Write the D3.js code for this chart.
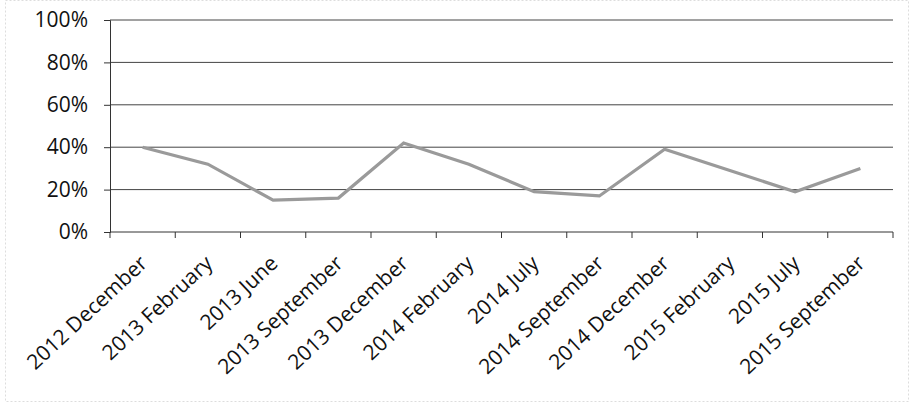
<!DOCTYPE html>
<html><head><meta charset="utf-8">
<script src="https://cdn.jsdelivr.net/npm/d3@7"></script>
<style>body{margin:0;background:#fff}svg{display:block}</style>
</head><body>
<svg id="c" width="910" height="406"></svg>
<script>
const categories = ["2012 December","2013 February","2013 June","2013 September","2013 December","2014 February","2014 July","2014 September","2014 December","2015 February","2015 July","2015 September"];
const values = [0.40,0.32,0.15,0.16,0.42,0.32,0.19,0.17,0.39,0.29,0.19,0.30];
const yTicks = [0,0.2,0.4,0.6,0.8,1.0];

const svg = d3.select("#c");
const font = "'Open Sans', sans-serif";
svg.append("rect").attr("x",5.5).attr("y",0.5).attr("width",903).attr("height",401)
  .attr("fill","#fff").attr("stroke","#ddd").attr("stroke-dasharray","2,2");

const L=110, R=893, T=20, B=232;
const x = d3.scaleBand().domain(categories).range([L,R]);
const y = d3.scaleLinear().domain([0,1]).range([B,T]);

// gridlines
svg.append("g").selectAll("line").data(yTicks.filter(d=>d>0)).join("line")
  .attr("x1",L).attr("x2",R).attr("y1",d=>y(d)).attr("y2",d=>y(d))
  .attr("stroke","#444").attr("stroke-width",1);

// y axis
const ya = svg.append("g").attr("transform",`translate(${L},0)`)
  .call(d3.axisLeft(y).tickValues(yTicks).tickFormat(d3.format(".0%")).tickSize(6).tickPadding(16));
ya.select(".domain").attr("stroke","#333");
ya.selectAll(".tick line").attr("stroke","#333");
ya.selectAll("text").attr("font-family",font).attr("font-size",21).attr("fill","#111");

// x axis
const xa = svg.append("g").attr("transform",`translate(0,${B})`)
  .call(d3.axisBottom(x).tickSize(0).tickFormat(""));
xa.select(".domain").attr("stroke","#333").attr("d",`M${L},0H${R}`);
const bounds = d3.range(categories.length+1).map(i=>L+i*x.step());
xa.selectAll(".bt").data(bounds).join("line").attr("class","bt")
  .attr("x1",d=>d).attr("x2",d=>d).attr("y1",0).attr("y2",6).attr("stroke","#333");
svg.append("g").selectAll("text").data(categories).join("text")
  .attr("transform",d=>`translate(${x(d)+x.bandwidth()/2+6},${B+33}) rotate(-43)`)
  .attr("text-anchor","end").attr("font-family",font).attr("font-size",21).attr("fill","#111")
  .text(d=>d);

// line
svg.append("path").datum(values)
  .attr("d",d3.line().x((d,i)=>x(categories[i])+x.bandwidth()/2).y(d=>y(d)))
  .attr("fill","none").attr("stroke","#9a9a9a").attr("stroke-width",3.2);
</script>
</body></html>
